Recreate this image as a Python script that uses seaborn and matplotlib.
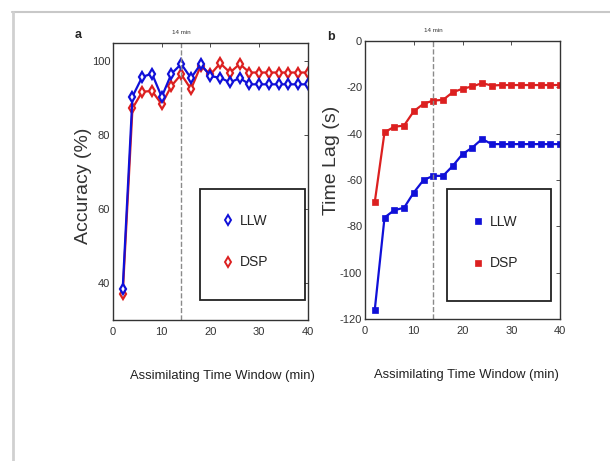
import matplotlib
matplotlib.use("Agg")
import matplotlib.pyplot as plt
from matplotlib.lines import Line2D
from matplotlib.patches import Rectangle
import seaborn as sns
import pandas as pd
import numpy as np

# 数据
window = [2, 4, 6, 8, 10, 12, 14, 16, 18, 20, 22, 24, 26, 28, 30, 32, 34, 36, 38, 40]
acc_llw = [38.5, 90.5, 95.8, 96.7, 90.4, 96.7, 99.3, 95.5, 99.3, 96.0,
           95.6, 94.3, 95.5, 93.8, 93.8, 93.8, 93.8, 93.8, 93.8, 93.8]
acc_dsp = [37.0, 87.3, 91.8, 92.0, 88.4, 93.4, 96.5, 92.5, 98.8, 96.5,
           99.5, 97.0, 99.3, 97.0, 97.0, 97.0, 97.0, 97.0, 97.0, 97.0]
lag_llw = [-116, -76.2, -73, -72, -65.4, -60, -58.2, -58.2, -53.9, -48.8,
           -46, -42.3, -44.5, -44.5, -44.5, -44.5, -44.5, -44.5, -44.5, -44.5]
lag_dsp = [-69.5, -39.4, -37, -36.5, -30.3, -27.1, -25.7, -25.4, -22.1, -20.6,
           -19.6, -18.2, -19.2, -19, -19, -19, -19, -19, -19, -19]
methods = ['LLW', 'DSP']
colors = {'LLW': '#1010d8', 'DSP': '#dc2020'}
x_ticks = [0, 10, 20, 30, 40]
acc_ticks = [40, 60, 80, 100]
lag_ticks = [0, -20, -40, -60, -80, -100, -120]
mark_min = 14

sns.set_theme(style="white")
plt.rcParams['font.family'] = ['Liberation Sans', 'DejaVu Sans']
plt.rcParams['axes.unicode_minus'] = False

df_acc = pd.DataFrame({'t': window * 2, 'v': acc_llw + acc_dsp,
                       'm': ['LLW'] * 20 + ['DSP'] * 20})
df_lag = pd.DataFrame({'t': window * 2, 'v': lag_llw + lag_dsp,
                       'm': ['LLW'] * 20 + ['DSP'] * 20})

fig = plt.figure(figsize=(6.1, 4.61), dpi=100)
fig.patch.set_facecolor('white')

ax1 = fig.add_axes([0.1852, 0.3059, 0.3197, 0.6009])
ax2 = fig.add_axes([0.5984, 0.3080, 0.3197, 0.6030])

# 外框（页面边线）
fig.add_artist(Line2D([0.02, 1.0], [0.974, 0.974], color='#c8c8c8', lw=1.5))
fig.add_artist(Line2D([0.021, 0.021], [0.0, 0.974], color='#d0d0d0', lw=2))

sns.lineplot(data=df_acc, x='t', y='v', hue='m', hue_order=['DSP', 'LLW'],
             palette=colors, marker='d', markersize=5, markerfacecolor='white',
             markeredgewidth=1.6, linewidth=1.6, legend=False, ax=ax1)
sns.lineplot(data=df_lag, x='t', y='v', hue='m', hue_order=['DSP', 'LLW'],
             palette=colors, marker='s', markersize=4.5, markeredgewidth=0.5,
             linewidth=1.6, legend=False, ax=ax2)
for ax in (ax1, ax2):
    for line in ax.get_lines():
        line.set_markeredgecolor(line.get_color())

ax1.set_xlim(0, 40)
ax1.set_ylim(30, 105)
ax1.set_yticks(acc_ticks)
ax2.set_xlim(0, 40)
ax2.set_ylim(-120, 0)
ax2.set_yticks(lag_ticks)

for ax in (ax1, ax2):
    ax.set_xticks(x_ticks)
    ax.axvline(mark_min, color='#8a8a8a', ls='--', lw=1)
    ax.text(mark_min, 1.03, '14 min', transform=ax.get_xaxis_transform(),
            ha='center', va='bottom', fontsize=4.5, color='#333333')
    ax.tick_params(direction='in', length=3, width=0.6, labelsize=8,
                   top=True, right=True, colors='#333333')
    ax.tick_params(axis='x', pad=5)
    ax.tick_params(axis='y', pad=2)
    for s in ax.spines.values():
        s.set_color('#333333')
        s.set_linewidth(1.0)
    ax.set_xlabel('Assimilating Time Window (min)', fontsize=9.4, color='#222222')
    ax.grid(False)

ax1.xaxis.set_label_coords(0.56, -0.18)
ax2.xaxis.set_label_coords(0.52, -0.18)

ax1.set_ylabel('Accuracy (%)', fontsize=14, color='#333333')
ax2.set_ylabel('Time Lag (s)', fontsize=14, color='#333333')
ax1.yaxis.set_label_coords(-0.108, 0.485)
ax2.yaxis.set_label_coords(-0.13, 0.57)

fig.text(78 / 610, 1 - 35 / 461, 'a', fontsize=9, fontweight='bold', ha='center', va='center')
fig.text(331 / 610, 1 - 37 / 461, 'b', fontsize=9, fontweight='bold', ha='center', va='center')

# 图例（方框单独画）
def add_legend(ax, box, marker, filled, anchor):
    ax.add_patch(Rectangle((box[0], box[1]), box[2], box[3], transform=ax.transAxes,
                           fill=False, lw=1.3, ec='#222222', zorder=5))
    handles = []
    for m in methods:
        handles.append(Line2D([], [], ls='none', marker=marker, color=colors[m],
                              markerfacecolor=colors[m] if filled else 'white',
                              markeredgewidth=1.4 if not filled else 0.5,
                              markersize=5))
    ax.legend(handles, methods, loc='center left', bbox_to_anchor=anchor,
              frameon=False, labelspacing=2.0, handletextpad=0.3,
              handlelength=1.0, borderpad=0, fontsize=10)

add_legend(ax1, (0.446, 0.072, 0.539, 0.401), 'd', False, (0.52, 0.283))
add_legend(ax2, (0.421, 0.065, 0.533, 0.403), 's', True, (0.51, 0.275))

fig.savefig('out.png', dpi=100)
